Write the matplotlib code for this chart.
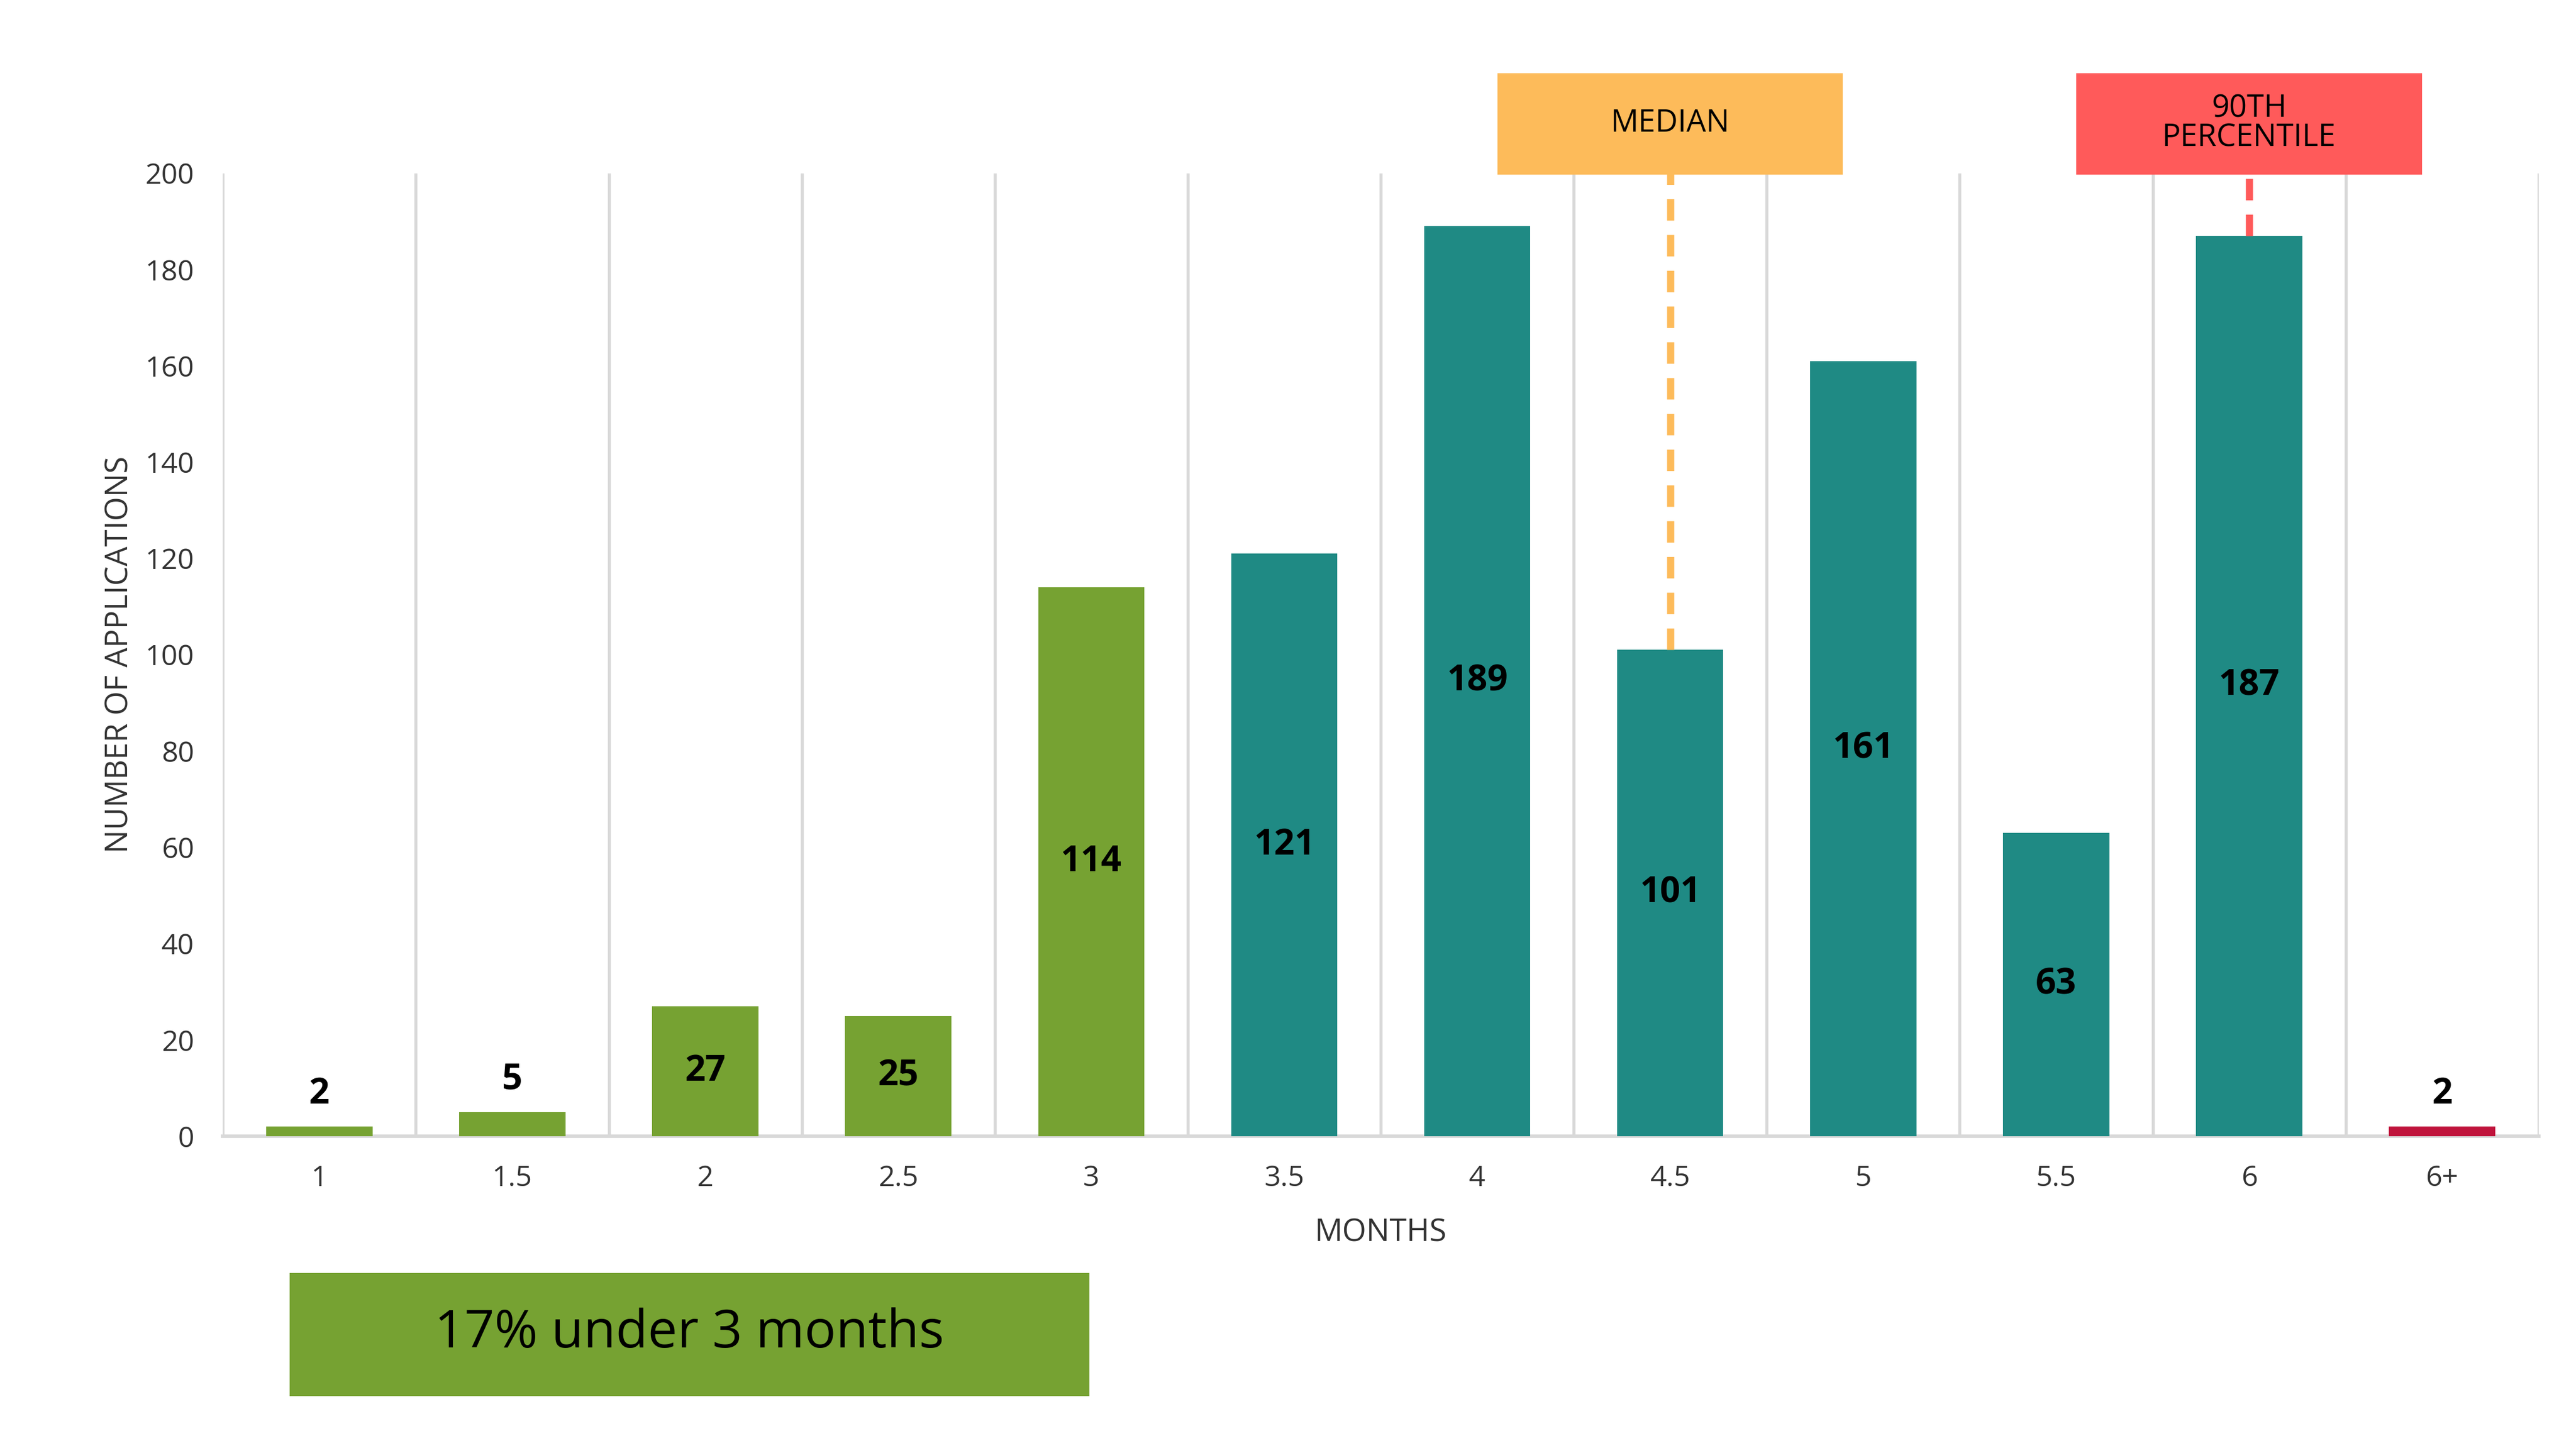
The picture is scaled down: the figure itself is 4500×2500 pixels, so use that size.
import matplotlib.pyplot as plt
from matplotlib.patches import Rectangle

months = ["1", "1.5", "2", "2.5", "3", "3.5", "4", "4.5", "5", "5.5", "6", "6+"]
counts = [2, 5, 27, 25, 114, 121, 189, 101, 161, 63, 187, 2]
groups = ["under", "under", "under", "under", "under", "over", "over", "over", "over", "over", "over", "late"]
group_colors = {"under": "#76A232", "over": "#1F8A84", "late": "#C0143C"}
median_idx = 7
p90_idx = 10

plt.rcParams["font.family"] = "Open Sans"

fig = plt.figure(figsize=(15, 25 / 3), dpi=300)
ax = fig.add_axes([0.0865, 0.206, 0.899, 0.673])

x = range(len(months))
ax.bar(x, counts, width=0.55, color=[group_colors[g] for g in groups], zorder=3)

for i, v in enumerate(counts):
    if v < 10:
        ax.text(i, v + 3, str(v), ha="center", va="bottom", fontsize=15, fontweight="bold")
    else:
        ax.text(i, v / 2, str(v), ha="center", va="center", fontsize=15, fontweight="bold")

ax.set_xlim(-0.5, len(months) - 0.5)
ax.set_ylim(0, 200)
ax.set_yticks(range(0, 201, 20))
ax.set_xticks(list(x))
ax.set_xticklabels(months)
for k in range(len(months) + 1):
    ax.axvline(k - 0.5, color="#d9d9d9", lw=1.3, zorder=1)
for s in ["top", "right", "left"]:
    ax.spines[s].set_visible(False)
ax.spines["bottom"].set_color("#d9d9d9")
ax.spines["bottom"].set_linewidth(1.5)
ax.tick_params(length=0, labelsize=12, colors="#333333", pad=12)
ax.set_xlabel("MONTHS", fontsize=13, color="#333333", labelpad=10)
ax.set_ylabel("NUMBER OF APPLICATIONS", fontsize=13, color="#333333")

# marker boxes + dashed leaders
def marker(idx, text, color, line_color):
    ax.plot([idx, idx], [counts[idx], 200], ls=(0, (3, 2)), color=line_color, lw=3, zorder=4, clip_on=False)
    bw = 208 / 117 / 2
    ax.add_patch(Rectangle((idx - bw, 200), 2 * bw, 20.5, color=color, clip_on=False, zorder=5))
    ax.text(idx, 210.3, text, ha="center", va="center", fontsize=13, linespacing=0.9, zorder=6)

marker(median_idx, "MEDIAN", "#FDBB5A", "#FDBB5A")
marker(p90_idx, "90TH\nPERCENTILE", "#FF5A5A", "#FF5A5A")

# summary box
fig.patches.append(Rectangle((176 / 1560, 1 - 845 / 867), 483 / 1560, 73 / 867,
                             transform=fig.transFigure, color="#76A232"))
fig.text((176 + 659) / 2 / 1560, 1 - 808 / 867, "17% under 3 months", ha="center", va="center", fontsize=22)

fig.savefig("out.png", dpi=300)
